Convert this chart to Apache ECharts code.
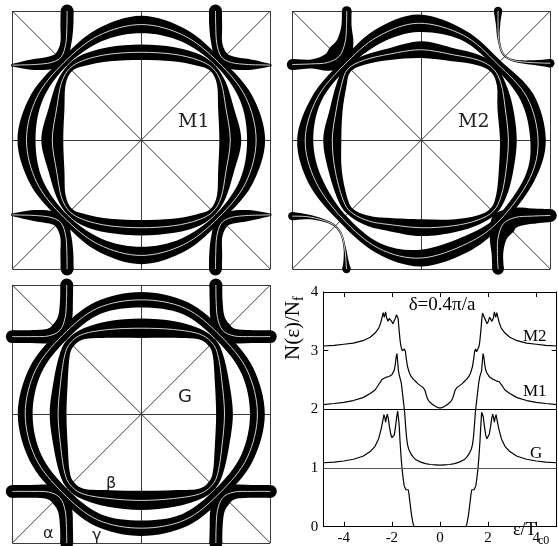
<!DOCTYPE html>
<html><head><meta charset="utf-8">
<script src="https://cdn.jsdelivr.net/npm/echarts@6/dist/echarts.min.js"></script>
<style>html,body{margin:0;padding:0;background:#fff}#c{width:558px;height:546px}</style>
</head><body><div id="c"></div>
<script>
// ---------- Fermi-surface data: [kx, ky, gap-width] in units of pi/a ----------
const m1Gamma = [[0.89,0,0.14],[0.81,0.33,0.10],[0.60,0.60,0.065],[0.33,0.81,0.10],
 [0,0.895,0.135],[-0.33,0.81,0.10],[-0.60,0.60,0.065],[-0.81,0.33,0.10],
 [-0.89,0,0.14],[-0.81,-0.33,0.10],[-0.60,-0.60,0.065],[-0.33,-0.81,0.10],
 [0,-0.895,0.135],[0.33,-0.81,0.10],[0.60,-0.60,0.065],[0.81,-0.33,0.10]];
const m1Beta = [[0.69,0,0.17],[0.655,0.25,0.12],[0.62,0.44,0.07],[0.555,0.555,0.055],[0.44,0.62,0.09],[0.25,0.665,0.11],
 [0,0.68,0.12],[-0.25,0.665,0.11],[-0.44,0.62,0.09],[-0.555,0.555,0.055],[-0.62,0.44,0.07],[-0.655,0.25,0.12],
 [-0.69,0,0.17],[-0.655,-0.25,0.12],[-0.62,-0.44,0.07],[-0.555,-0.555,0.055],[-0.44,-0.62,0.09],[-0.25,-0.665,0.11],
 [0,-0.68,0.12],[0.25,-0.665,0.11],[0.44,-0.62,0.09],[0.555,-0.555,0.055],[0.62,-0.44,0.07],[0.655,-0.25,0.12]];
const m1AlphaTL = [[-0.575,1.0,0.10],[-0.577,0.88,0.10],[-0.585,0.75,0.085],[-0.62,0.645,0.10],[-0.70,0.60,0.10],[-0.83,0.585,0.085],[-0.93,0.582,0.05],[-1.0,0.58,0.02]];
const m1AlphaTR = [[0.575,1.0,0.10],[0.577,0.88,0.10],[0.585,0.75,0.085],[0.62,0.645,0.10],[0.70,0.60,0.10],[0.83,0.585,0.085],[0.93,0.582,0.05],[1.0,0.58,0.02]];
const m1AlphaBL = [[-0.575,-1.0,0.10],[-0.577,-0.88,0.10],[-0.585,-0.75,0.085],[-0.62,-0.645,0.10],[-0.70,-0.60,0.10],[-0.83,-0.585,0.085],[-0.93,-0.582,0.05],[-1.0,-0.58,0.02]];
const m1AlphaBR = [[0.575,-1.0,0.10],[0.577,-0.88,0.10],[0.585,-0.75,0.085],[0.62,-0.645,0.10],[0.70,-0.60,0.10],[0.83,-0.585,0.085],[0.93,-0.582,0.05],[1.0,-0.58,0.02]];

const m2Gamma = [[0.905,0,0.12],[0.82,0.33,0.11],[0.59,0.59,0.07],[0.33,0.81,0.08],
 [-0.02,0.905,0.135],[-0.34,0.80,0.11],[-0.60,0.58,0.07],[-0.81,0.32,0.08],
 [-0.90,0,0.125],[-0.82,-0.32,0.11],[-0.61,-0.61,0.07],[-0.33,-0.84,0.08],
 [0,-0.915,0.13],[0.36,-0.80,0.12],[0.61,-0.62,0.07],[0.84,-0.30,0.08]];
const m2Beta = [[0.675,0,0.13],[0.65,0.25,0.12],[0.62,0.43,0.07],[0.56,0.55,0.06],[0.44,0.62,0.08],[0.25,0.66,0.10],
 [0,0.70,0.13],[-0.25,0.665,0.09],[-0.44,0.62,0.07],[-0.57,0.55,0.06],[-0.62,0.42,0.08],[-0.66,0.23,0.10],
 [-0.69,0,0.14],[-0.665,-0.25,0.10],[-0.60,-0.48,0.07],[-0.53,-0.57,0.06],[-0.40,-0.63,0.08],[-0.25,-0.655,0.10],
 [0,-0.68,0.13],[0.25,-0.665,0.10],[0.44,-0.62,0.07],[0.56,-0.55,0.06],[0.62,-0.43,0.08],[0.655,-0.25,0.11]];
const m2AlphaTL = [[-0.578,1.0,0.075],[-0.58,0.88,0.08],[-0.59,0.76,0.13],[-0.635,0.65,0.20],[-0.73,0.60,0.13],[-0.85,0.59,0.07],[-1.0,0.585,0.085]];
const m2AlphaBR = [[0.595,-1.0,0.09],[0.59,-0.88,0.09],[0.595,-0.76,0.13],[0.635,-0.65,0.20],[0.73,-0.60,0.15],[0.86,-0.59,0.12],[1.0,-0.585,0.10]];
const m2AlphaTR = [[0.595,1.0,0.065],[0.595,0.9,0.035],[0.60,0.78,0.018],[0.635,0.665,0.015],[0.72,0.615,0.018],[0.86,0.60,0.035],[1.0,0.595,0.065]];
const m2AlphaBL = [[-1.0,-0.59,0.065],[-0.86,-0.598,0.035],[-0.70,-0.645,0.018],[-0.625,-0.72,0.015],[-0.595,-0.83,0.018],[-0.585,-0.92,0.035],[-0.58,-1.0,0.065]];

const gGamma = [[0.90,0,0.115],[0.82,0.34,0.10],[0.61,0.61,0.09],[0.34,0.82,0.10],
 [0,0.885,0.12],[-0.34,0.82,0.10],[-0.61,0.61,0.09],[-0.82,0.34,0.10],
 [-0.90,0,0.115],[-0.82,-0.34,0.10],[-0.61,-0.61,0.09],[-0.34,-0.82,0.10],
 [0,-0.885,0.12],[0.34,-0.82,0.10],[0.61,-0.61,0.09],[0.82,-0.34,0.10]];
const gBeta = [[0.645,0,0.13],[0.625,0.25,0.11],[0.595,0.45,0.08],[0.55,0.55,0.07],[0.45,0.62,0.08],[0.25,0.655,0.13],
 [0,0.665,0.15],[-0.25,0.655,0.13],[-0.45,0.62,0.08],[-0.55,0.55,0.07],[-0.595,0.45,0.08],[-0.625,0.25,0.11],
 [-0.645,0,0.13],[-0.625,-0.25,0.11],[-0.595,-0.45,0.08],[-0.55,-0.55,0.07],[-0.45,-0.62,0.08],[-0.25,-0.655,0.13],
 [0,-0.67,0.15],[0.25,-0.655,0.13],[0.45,-0.62,0.08],[0.55,-0.55,0.07],[0.595,-0.45,0.08],[0.625,-0.25,0.11]];
const gAlphaTL = [[-0.578,1.0,0.10],[-0.58,0.88,0.10],[-0.59,0.75,0.11],[-0.63,0.65,0.14],[-0.72,0.605,0.11],[-0.86,0.60,0.10],[-1.0,0.60,0.10]];
const gAlphaTR = [[0.578,1.0,0.10],[0.58,0.88,0.10],[0.59,0.75,0.11],[0.63,0.65,0.14],[0.72,0.605,0.11],[0.86,0.60,0.10],[1.0,0.60,0.10]];
const gAlphaBL = [[-0.578,-1.0,0.10],[-0.58,-0.88,0.10],[-0.59,-0.75,0.11],[-0.63,-0.65,0.14],[-0.72,-0.605,0.11],[-0.86,-0.60,0.10],[-1.0,-0.60,0.10]];
const gAlphaBR = [[0.578,-1.0,0.10],[0.58,-0.88,0.10],[0.59,-0.75,0.11],[0.63,-0.65,0.14],[0.72,-0.605,0.11],[0.86,-0.60,0.10],[1.0,-0.60,0.10]];

// zone-boundary diagonals (k-space)
const diagA = [[-1,-1],[1,1]];
const diagB = [[-1,1],[1,-1]];

// ---------- Density of states (plotted values, curves offset by 0/1/2) ----------
const dosG = [[-4.85,1.09],[-4.4,1.10],[-4.0,1.12],[-3.6,1.15],[-3.2,1.20],[-2.9,1.28],[-2.7,1.37],[-2.55,1.50],[-2.45,1.66],[-2.38,1.80],[-2.33,1.91],[-2.29,1.86],[-2.26,1.78],[-2.23,1.85],[-2.19,1.92],[-2.15,1.85],[-2.1,1.70],[-2.05,1.58],[-2.0,1.52],[-1.95,1.50],[-1.9,1.56],[-1.85,1.70],[-1.8,1.87],[-1.76,1.97],[-1.73,1.95],[-1.70,1.75],[-1.66,1.45],[-1.62,1.20],[-1.58,1.00],[-1.54,0.85],[-1.49,0.70],[-1.42,0.63],[-1.36,0.60],[-1.32,0.63],[-1.29,0.56],[-1.25,0.42],[-1.19,0.22],[-1.13,0.07],[-1.08,0.0],
 [1.08,0.0],[1.13,0.07],[1.19,0.22],[1.25,0.42],[1.29,0.56],[1.32,0.63],[1.36,0.60],[1.42,0.63],[1.49,0.70],[1.54,0.85],[1.58,1.00],[1.62,1.20],[1.66,1.45],[1.70,1.75],[1.73,1.95],[1.76,1.97],[1.8,1.87],[1.85,1.70],[1.9,1.56],[1.95,1.50],[2.0,1.52],[2.05,1.58],[2.1,1.70],[2.15,1.85],[2.19,1.92],[2.23,1.85],[2.26,1.78],[2.29,1.86],[2.33,1.91],[2.38,1.80],[2.45,1.66],[2.55,1.50],[2.7,1.37],[2.9,1.28],[3.2,1.20],[3.6,1.15],[4.0,1.12],[4.4,1.10],[4.85,1.09]];
const dosM1 = [[-4.85,2.08],[-4.4,2.10],[-4.0,2.12],[-3.6,2.15],[-3.2,2.20],[-2.9,2.27],[-2.7,2.33],[-2.6,2.39],[-2.52,2.44],[-2.46,2.47],[-2.41,2.51],[-2.37,2.48],[-2.32,2.53],[-2.27,2.50],[-2.22,2.55],[-2.17,2.52],[-2.12,2.56],[-2.06,2.55],[-2.0,2.59],[-1.95,2.62],[-1.9,2.67],[-1.86,2.76],[-1.82,2.90],[-1.79,2.95],[-1.76,2.82],[-1.73,2.66],[-1.69,2.58],[-1.65,2.55],[-1.61,2.45],[-1.56,2.28],[-1.51,2.10],[-1.47,1.95],[-1.43,1.72],[-1.39,1.52],[-1.35,1.40],[-1.3,1.32],[-1.22,1.25],[-1.12,1.19],[-1.0,1.14],[-0.8,1.10],[-0.6,1.075],[-0.4,1.06],[-0.2,1.055],[0,1.05],
 [0.2,1.055],[0.4,1.06],[0.6,1.075],[0.8,1.10],[1.0,1.14],[1.12,1.19],[1.22,1.25],[1.3,1.32],[1.35,1.40],[1.39,1.52],[1.43,1.72],[1.47,1.95],[1.51,2.10],[1.56,2.28],[1.61,2.45],[1.65,2.55],[1.69,2.58],[1.73,2.66],[1.76,2.82],[1.79,2.95],[1.82,2.90],[1.86,2.76],[1.9,2.67],[1.95,2.62],[2.0,2.59],[2.06,2.55],[2.12,2.56],[2.17,2.52],[2.22,2.55],[2.27,2.50],[2.32,2.53],[2.37,2.48],[2.41,2.51],[2.46,2.47],[2.52,2.44],[2.6,2.39],[2.7,2.33],[2.9,2.27],[3.2,2.20],[3.6,2.15],[4.0,2.12],[4.4,2.10],[4.85,2.08]];
const dosM2 = [[-4.85,3.08],[-4.4,3.09],[-4.0,3.11],[-3.6,3.13],[-3.2,3.17],[-2.9,3.23],[-2.7,3.30],[-2.55,3.38],[-2.46,3.48],[-2.4,3.58],[-2.36,3.65],[-2.32,3.57],[-2.29,3.61],[-2.26,3.66],[-2.22,3.56],[-2.16,3.50],[-2.11,3.55],[-2.06,3.57],[-2.01,3.50],[-1.96,3.46],[-1.91,3.50],[-1.86,3.55],[-1.81,3.61],[-1.77,3.64],[-1.74,3.55],[-1.70,3.35],[-1.66,3.18],[-1.62,3.07],[-1.57,3.00],[-1.52,2.98],[-1.48,3.03],[-1.44,2.99],[-1.40,2.86],[-1.35,2.73],[-1.28,2.63],[-1.2,2.56],[-1.1,2.51],[-1.0,2.47],[-0.9,2.43],[-0.8,2.40],[-0.7,2.37],[-0.63,2.33],[-0.58,2.26],[-0.53,2.19],[-0.46,2.14],[-0.36,2.10],[-0.25,2.065],[-0.12,2.035],[0,2.02],
 [0.12,2.035],[0.25,2.065],[0.36,2.10],[0.46,2.14],[0.53,2.19],[0.58,2.26],[0.63,2.33],[0.7,2.37],[0.8,2.40],[0.9,2.43],[1.0,2.47],[1.1,2.51],[1.2,2.56],[1.28,2.63],[1.35,2.73],[1.40,2.86],[1.44,2.99],[1.48,3.03],[1.52,2.98],[1.57,3.00],[1.62,3.07],[1.66,3.18],[1.70,3.35],[1.74,3.55],[1.77,3.64],[1.81,3.61],[1.86,3.55],[1.91,3.50],[1.96,3.46],[2.01,3.50],[2.06,3.57],[2.11,3.55],[2.16,3.50],[2.22,3.56],[2.26,3.66],[2.29,3.61],[2.32,3.57],[2.36,3.65],[2.4,3.58],[2.46,3.48],[2.55,3.38],[2.7,3.30],[2.9,3.23],[3.2,3.17],[3.6,3.13],[4.0,3.11],[4.4,3.09],[4.85,3.08]];
const refLevels = [1, 2];
const xTicks = [-4, -2, 0, 2, 4];

// ---------- rendering helpers ----------
function spline(P, closed, cmd) {
  const n = P.length, f = v => v.toFixed(2);
  let s = cmd + f(P[0][0]) + ' ' + f(P[0][1]);
  const segs = closed ? n : n - 1;
  for (let i = 0; i < segs; i++) {
    const p1 = P[i], p2 = P[(i + 1) % n];
    const p0 = closed ? P[(i - 1 + n) % n] : P[Math.max(i - 1, 0)];
    const p3 = closed ? P[(i + 2) % n] : P[Math.min(i + 2, n - 1)];
    const c1x = p1[0] + (p2[0] - p0[0]) / 6, c1y = p1[1] + (p2[1] - p0[1]) / 6;
    const c2x = p2[0] - (p3[0] - p1[0]) / 6, c2y = p2[1] - (p3[1] - p1[1]) / 6;
    s += ' C' + f(c1x) + ' ' + f(c1y) + ' ' + f(c2x) + ' ' + f(c2y) + ' ' + f(p2[0]) + ' ' + f(p2[1]);
  }
  if (closed) s += ' Z';
  return s;
}
function makeRender(curves) {
  return function (params, api) {
    const c = curves[api.value(2)];
    const closed = c.closed;
    const pts = c.pts.map(p => api.coord([p[0], p[1]]));
    const hw = c.pts.map(p => api.size([p[2], 0])[0] / 2);
    const n = pts.length, outer = [], inner = [];
    for (let i = 0; i < n; i++) {
      const a = closed ? pts[(i - 1 + n) % n] : pts[Math.max(i - 1, 0)];
      const b = closed ? pts[(i + 1) % n] : pts[Math.min(i + 1, n - 1)];
      let tx = b[0] - a[0], ty = b[1] - a[1];
      const L = Math.hypot(tx, ty) || 1; tx /= L; ty /= L;
      const nx = -ty, ny = tx;
      outer.push([pts[i][0] + nx * hw[i], pts[i][1] + ny * hw[i]]);
      inner.push([pts[i][0] - nx * hw[i], pts[i][1] - ny * hw[i]]);
    }
    const kids = [];
    let d;
    if (closed) d = spline(outer, true, 'M') + ' ' + spline(inner.slice().reverse(), true, 'M');
    else d = spline(outer, false, 'M') + ' ' + spline(inner.slice().reverse(), false, 'L') + ' Z';
    kids.push({type: 'path', shape: {pathData: d}, style: {fill: '#000', stroke: null}, z2: 1});
    if (!closed) {
      kids.push({type: 'circle', shape: {cx: pts[0][0], cy: pts[0][1], r: hw[0]}, style: {fill: '#000'}, z2: 1});
      kids.push({type: 'circle', shape: {cx: pts[n-1][0], cy: pts[n-1][1], r: hw[n-1]}, style: {fill: '#000'}, z2: 1});
    }
    kids.push({type: 'path', shape: {pathData: spline(pts, closed, 'M')}, style: {fill: 'none', stroke: '#d2d2d2', lineWidth: 1}, z2: 50});
    return {type: 'group', children: kids};
  };
}
const panels = [
  [{pts: m1Gamma, closed: true}, {pts: m1Beta, closed: true}, {pts: m1AlphaTL}, {pts: m1AlphaTR}, {pts: m1AlphaBL}, {pts: m1AlphaBR}],
  [{pts: m2Gamma, closed: true}, {pts: m2Beta, closed: true}, {pts: m2AlphaTL}, {pts: m2AlphaTR}, {pts: m2AlphaBL}, {pts: m2AlphaBR}],
  [{pts: gGamma, closed: true}, {pts: gBeta, closed: true}, {pts: gAlphaTL}, {pts: gAlphaTR}, {pts: gAlphaBL}, {pts: gAlphaBR}]
];

const grids = [
  {left: 12.3, top: 11, width: 258, height: 258},
  {left: 292.3, top: 11, width: 258, height: 258},
  {left: 12.3, top: 285, width: 258, height: 258},
  {left: 323.3, top: 292, width: 233.4, height: 234.7}
].map(g => Object.assign({containLabel: false, outerBoundsMode: 'none', show: false}, g));

const fsAxis = i => ({
  gridIndex: i, type: 'value', min: -1, max: 1, interval: 1,
  axisLine: {show: false}, axisTick: {show: false}, axisLabel: {show: false},
  splitLine: {show: true, showMinLine: true, showMaxLine: true, lineStyle: {color: '#3a3a3a', width: 1}}
});
const serif = '"Liberation Serif", "Times New Roman", serif';
const axLine = {show: true, onZero: false, lineStyle: {color: '#000', width: 1}};

const series = [];
panels.forEach((curves, p) => {
  [diagA, diagB].forEach(dg => series.push({
    type: 'line', xAxisIndex: p, yAxisIndex: p, data: dg, symbol: 'none', silent: true, z: 1,
    lineStyle: {color: '#3a3a3a', width: 1}
  }));
  series.push({
    type: 'custom', xAxisIndex: p, yAxisIndex: p, clip: false, z: 3, silent: true,
    dimensions: ['x', 'y', 'idx'], encode: {x: 0, y: 1},
    data: curves.map((c, i) => [0, 0, i]),
    renderItem: makeRender(curves)
  });
});
[dosG, dosM1, dosM2].forEach((d, k) => {
  const s = {type: 'line', xAxisIndex: 3, yAxisIndex: 3, data: d, symbol: 'none', silent: true, z: 3,
    lineStyle: {color: '#000', width: 1.2}};
  if (k === 0) s.markLine = {silent: true, symbol: ['none', 'none'], label: {show: false},
    data: refLevels.map((v, j) => ({yAxis: v, lineStyle: {color: j === 0 ? '#555' : '#000', width: 1, type: 'solid'}}))};
  series.push(s);
});

const txt = (x, y, text, size, family, extra) => ({type: 'text', x, y, silent: true,
  style: Object.assign({text, fontSize: size, fontFamily: family, fill: '#111', align: 'left', verticalAlign: 'top'}, extra || {})});

const option = {
  animation: false, backgroundColor: '#fff',
  grid: grids,
  xAxis: [fsAxis(0), fsAxis(1), fsAxis(2),
    {gridIndex: 3, type: 'value', min: -4.85, max: 4.85, position: 'bottom', axisLine: axLine,
     axisTick: {show: true, inside: true, length: 5, customValues: xTicks, lineStyle: {color: '#000'}},
     axisLabel: {show: true, customValues: xTicks, margin: 4, fontFamily: serif, fontSize: 15, color: '#000'},
     splitLine: {show: false}},
    {gridIndex: 3, type: 'value', min: -4.85, max: 4.85, position: 'top', axisLine: axLine,
     axisTick: {show: true, inside: true, length: 5, customValues: xTicks, lineStyle: {color: '#000'}},
     axisLabel: {show: false}, splitLine: {show: false}}],
  yAxis: [fsAxis(0), fsAxis(1), fsAxis(2),
    {gridIndex: 3, type: 'value', min: 0, max: 4, interval: 1, position: 'left', axisLine: axLine,
     axisTick: {show: true, inside: true, length: 5, lineStyle: {color: '#000'}},
     axisLabel: {show: true, margin: 5, fontFamily: serif, fontSize: 15, color: '#000'},
     splitLine: {show: false}},
    {gridIndex: 3, type: 'value', min: 0, max: 4, interval: 1, position: 'right', axisLine: axLine,
     axisTick: {show: true, inside: true, length: 5, lineStyle: {color: '#000'}},
     axisLabel: {show: false}, splitLine: {show: false}}],
  series: series,
  graphic: [
    txt(178, 113, 'M1', 19, '"DejaVu Serif"', {fill: '#222'}),
    txt(458, 113, 'M2', 19, '"DejaVu Serif"', {fill: '#222'}),
    txt(178, 388, 'G', 18, '"DejaVu Sans"', {fill: '#222'}),
    txt(43, 526, 'α', 16, '"DejaVu Sans"', {fill: '#222'}),
    txt(92, 528, 'γ', 16, '"DejaVu Sans"', {fill: '#222'}),
    txt(106, 476, 'β', 16, '"DejaVu Sans"', {fill: '#222'}),
    txt(442, 305, 'δ=0.4π/a', 19, serif, {align: 'center', verticalAlign: 'middle', fill: '#000'}),
    txt(523, 328, 'M2', 17, serif, {fill: '#000'}),
    txt(523, 383, 'M1', 17, serif, {fill: '#000'}),
    txt(530, 445, 'G', 17, serif, {fill: '#000'}),
    txt(513, 530, 'ε/T', 18, serif, {verticalAlign: 'middle', fill: '#000'}),
    txt(538, 541, 'c0', 12, serif, {verticalAlign: 'middle', fill: '#000'}),
    {type: 'group', x: 293, y: 331, rotation: Math.PI / 2, silent: true, children: [
      {type: 'text', x: 30, y: 0, style: {text: 'N(ε)/N', fontSize: 21, fontFamily: serif, fill: '#000', align: 'right', verticalAlign: 'middle'}},
      {type: 'text', x: 30, y: 6, style: {text: 'f', fontSize: 14, fontFamily: serif, fill: '#000', align: 'left', verticalAlign: 'middle'}}
    ]}
  ]
};
const chart = echarts.init(document.getElementById('c'), null, {renderer: 'canvas'});
chart.setOption(option);
</script></body></html>
